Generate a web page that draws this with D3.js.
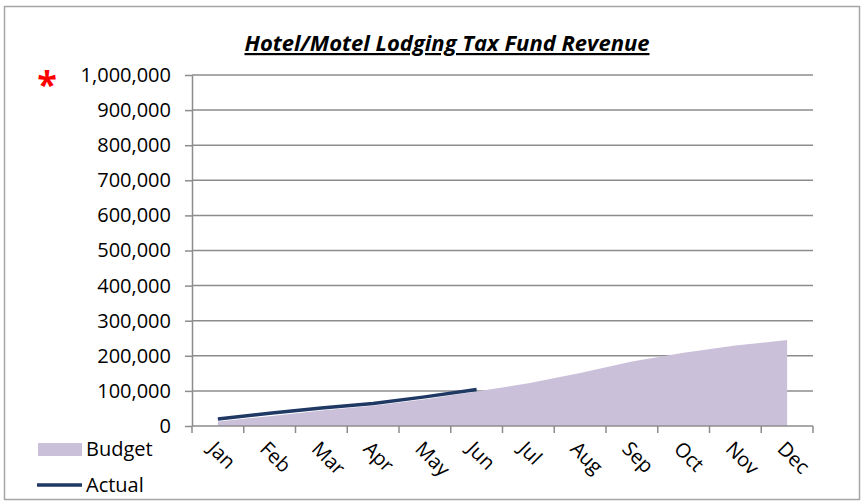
<!DOCTYPE html>
<html>
<head>
<meta charset="utf-8">
<script src="https://cdn.jsdelivr.net/npm/d3@7"></script>
<style>
  body { margin: 0; background: #fff; }
  svg { font-family: "Open Sans", Lato, sans-serif; }
</style>
</head>
<body>
<svg width="865" height="502"></svg>
<script>
const months = ["Jan", "Feb", "Mar", "Apr", "May", "Jun", "Jul", "Aug", "Sep", "Oct", "Nov", "Dec"];
const budget = [13000, 28000, 44000, 58000, 76000, 98000, 122000, 151000, 184000, 209000, 229000, 245000];
const actual = [20000, 36000, 51000, 64000, 83000, 104000];
const yTicks = [0, 100000, 200000, 300000, 400000, 500000, 600000, 700000, 800000, 900000, 1000000];

const svg = d3.select("svg");
const margin = { left: 192, right: 52, top: 75, bottom: 76 };
const width = 865, height = 502;
const labelSize = "20px";

// outer chart frame
svg.append("rect")
    .attr("x", 4.5).attr("y", 6.5)
    .attr("width", 855).attr("height", 493)
    .attr("fill", "#fff")
    .attr("stroke", "#a6a6a6")
    .attr("stroke-width", 1.5);

const x = d3.scaleBand()
    .domain(months)
    .range([margin.left, width - margin.right]);

const y = d3.scaleLinear()
    .domain([0, 1000000])
    .range([height - margin.bottom, margin.top]);

// gridlines
svg.append("g")
    .selectAll("line")
    .data(yTicks.slice(1))
    .enter().append("line")
    .attr("x1", margin.left).attr("x2", width - margin.right)
    .attr("y1", d => y(d)).attr("y2", d => y(d))
    .attr("stroke", "#8c8c8c")
    .attr("stroke-width", 1.5);

// budget area
const cx = d => x(d) + x.bandwidth() / 2;
svg.append("path")
    .datum(budget)
    .attr("fill", "#cbc0da")
    .attr("d", d3.area()
        .x((d, i) => cx(months[i]))
        .y0(y(0))
        .y1(d => y(d)));

// actual line
svg.append("path")
    .datum(actual)
    .attr("fill", "none")
    .attr("stroke", "#1f3864")
    .attr("stroke-width", 3.5)
    .attr("d", d3.line()
        .x((d, i) => cx(months[i]))
        .y(d => y(d)));

// y axis
const yAxis = svg.append("g")
    .attr("transform", `translate(${margin.left},0)`)
    .call(d3.axisLeft(y).tickValues(yTicks).tickFormat(d3.format(",")).tickSize(7).tickSizeOuter(0));
yAxis.select(".domain").attr("stroke", "#8c8c8c").attr("stroke-width", 1.5);
yAxis.selectAll(".tick line").attr("stroke", "#8c8c8c").attr("stroke-width", 1.5);
yAxis.selectAll(".tick text")
    .attr("x", -21)
    .attr("fill", "#000")
    .style("font-size", labelSize)
    .style("font-family", "'Open Sans', Lato, sans-serif");

// x axis
const xAxis = svg.append("g")
    .attr("transform", `translate(0,${y(0)})`);
xAxis.append("line")
    .attr("x1", margin.left).attr("x2", width - margin.right)
    .attr("stroke", "#8c8c8c").attr("stroke-width", 1.5);
xAxis.selectAll("line.tk")
    .data(months.concat(["end"]))
    .enter().append("line")
    .attr("class", "tk")
    .attr("x1", (d, i) => margin.left + i * x.bandwidth())
    .attr("x2", (d, i) => margin.left + i * x.bandwidth())
    .attr("y1", 0).attr("y2", 7)
    .attr("stroke", "#8c8c8c").attr("stroke-width", 1.5);
xAxis.selectAll("text")
    .data(months)
    .enter().append("text")
    .attr("transform", d => `translate(${cx(d) - 6},${19}) rotate(45)`)
    .attr("text-anchor", "start")
    .attr("dy", "0.35em")
    .style("font-size", labelSize)
    .text(d => d);

// title
svg.append("text")
    .attr("x", 447).attr("y", 51)
    .attr("text-anchor", "middle")
    .style("font-size", "22px")
    .style("font-weight", "bold")
    .style("font-style", "italic")
    .style("text-decoration", "underline")
    .text("Hotel/Motel Lodging Tax Fund Revenue");

// red asterisk
svg.append("text")
    .attr("x", 47).attr("y", 97)
    .attr("text-anchor", "middle")
    .attr("fill", "#ff0000")
    .style("font-size", "36px")
    .style("font-weight", "bold")
    .text("*");

// legend
const legend = svg.append("g");
legend.append("rect")
    .attr("x", 38).attr("y", 443)
    .attr("width", 44).attr("height", 13)
    .attr("fill", "#cbc0da");
legend.append("text")
    .attr("x", 86).attr("y", 449)
    .attr("dy", "0.35em")
    .style("font-size", labelSize)
    .text("Budget");
legend.append("line")
    .attr("x1", 37).attr("x2", 82)
    .attr("y1", 485).attr("y2", 485)
    .attr("stroke", "#1f3864").attr("stroke-width", 3.5);
legend.append("text")
    .attr("x", 86).attr("y", 485)
    .attr("dy", "0.35em")
    .style("font-size", labelSize)
    .text("Actual");
</script>
</body>
</html>
